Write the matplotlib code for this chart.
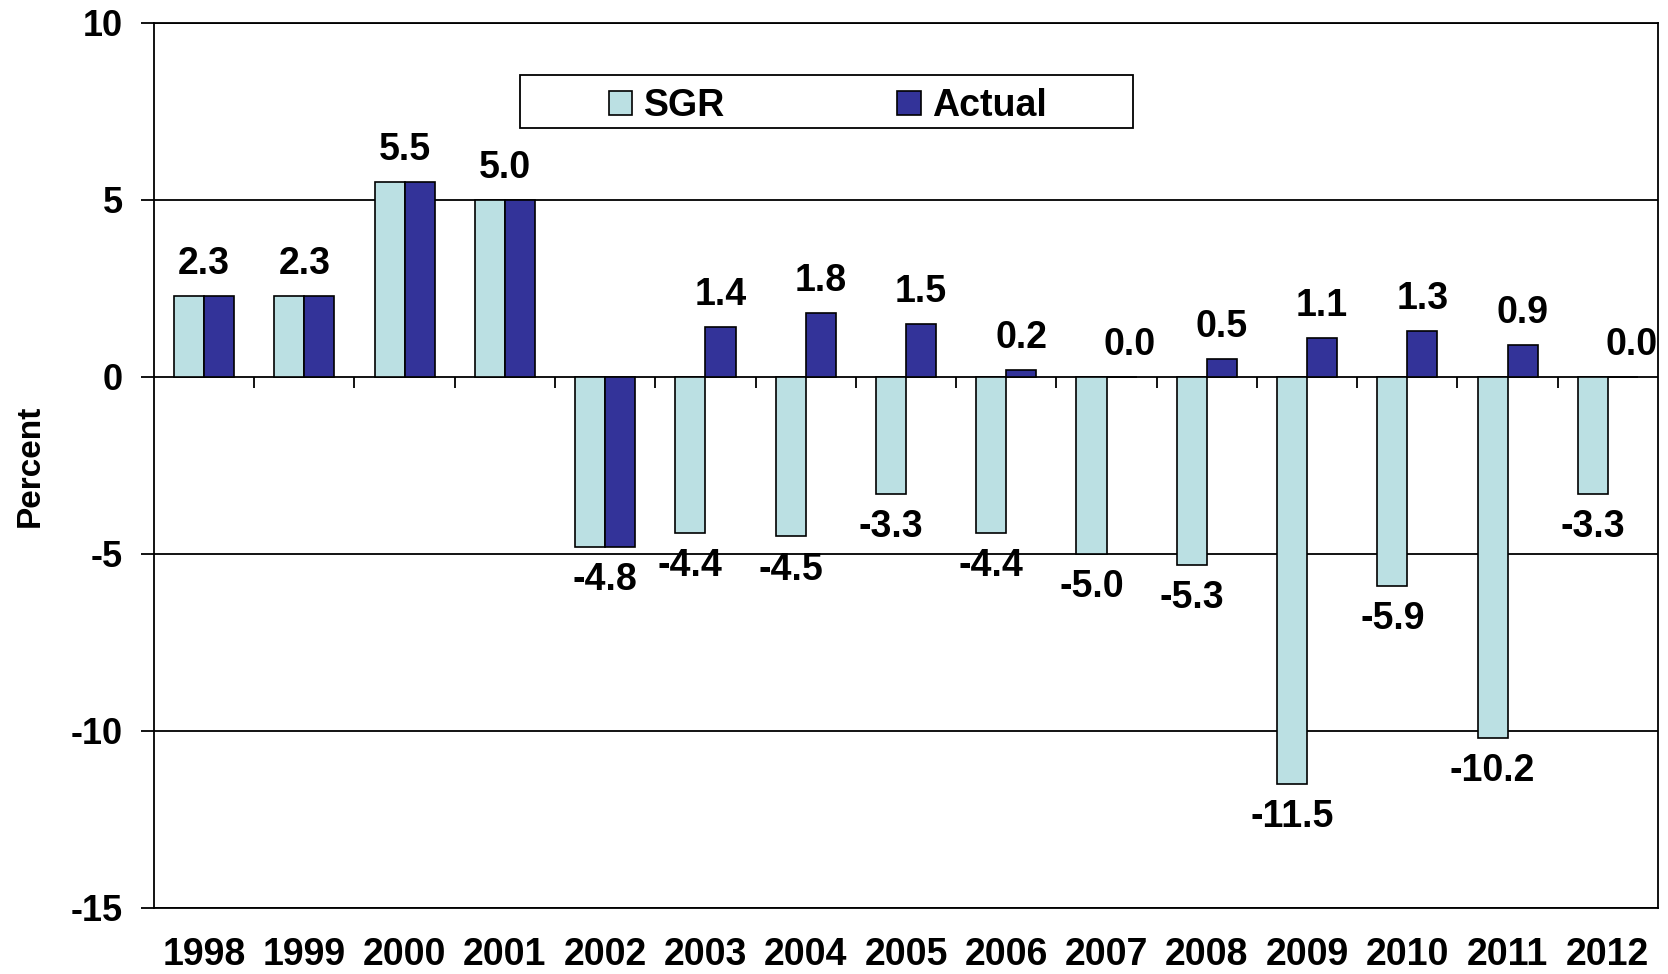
import numpy as np
import matplotlib.pyplot as plt
from matplotlib.patches import Rectangle

plt.rcParams['font.family'] = ['Liberation Sans', 'DejaVu Sans']
plt.rcParams['font.weight'] = 'bold'

# data
years = [str(y) for y in range(1998, 2013)]
sgr = [2.3, 2.3, 5.5, 5.0, -4.8, -4.4, -4.5, -3.3, -4.4, -5.0, -5.3, -11.5, -5.9, -10.2, -3.3]
actual = [2.3, 2.3, 5.5, 5.0, -4.8, 1.4, 1.8, 1.5, 0.2, 0.0, 0.5, 1.1, 1.3, 0.9, 0.0]
yticks = [-15, -10, -5, 0, 5, 10]

sgr_color = '#BBE0E3'
actual_color = '#333399'

fig = plt.figure(figsize=(16.68, 9.74), dpi=100)
ax = fig.add_axes([0.0923, 0.0678, 0.9017, 0.9086])

x = np.arange(len(years))
w = 0.3
ax.bar(x - w / 2, sgr, w, color=sgr_color, edgecolor='black', linewidth=1.2, label='SGR', zorder=3)
ax.bar(x + w / 2, actual, w, color=actual_color, edgecolor='black', linewidth=1.2, label='Actual', zorder=3)

# value labels
for i in range(len(years)):
    if sgr[i] == actual[i]:
        v = sgr[i]
        off = 23 if v >= 0 else -24
        ax.annotate(f'{v:.1f}', (x[i], v), xytext=(0, off), textcoords='offset points',
                    ha='center', va='center', fontsize=27, fontweight='bold')
    else:
        ax.annotate(f'{sgr[i]:.1f}', (x[i] - w / 2, sgr[i]), xytext=(0, -24), textcoords='offset points',
                    ha='center', va='center', fontsize=27, fontweight='bold')
        off_x = 6 if actual[i] == 0 else 0
        ax.annotate(f'{actual[i]:.1f}', (x[i] + w / 2, actual[i]), xytext=(off_x, 23), textcoords='offset points',
                    ha='center', va='center', fontsize=27, fontweight='bold')

ax.set_xlim(-0.5, len(years) - 0.5)
ax.set_ylim(-15, 10)
ax.set_yticks(yticks)
ax.set_yticklabels([str(t) for t in yticks], fontsize=26, fontweight='bold')
ax.tick_params(axis='y', direction='out', length=9.5, width=1.3, pad=13)

ax.set_xticks(x)
ax.set_xticklabels(years, fontsize=27, fontweight='bold')
ax.tick_params(axis='x', length=0, pad=21)

# horizontal gridlines and zero line
for t in yticks:
    ax.axhline(t, color='black', linewidth=1.3, zorder=1)
# category separators on the zero line
ax.vlines(x[:-1] + 0.5, -0.32, 0, color='black', linewidth=1.3, zorder=2)

for s in ax.spines.values():
    s.set_linewidth(1.3)

ax.set_ylabel('Percent', fontsize=24, fontweight='bold')
ax.yaxis.set_label_coords(-0.072, 0.5)

# legend with a wide frame
ax.add_patch(Rectangle((0.2436, 0.8808), 0.4076, 0.0599, transform=ax.transAxes,
                       facecolor='white', edgecolor='black', linewidth=1.3, zorder=4))
leg = ax.legend(loc='center', bbox_to_anchor=(0.448, 0.906), ncol=2, frameon=False,
                prop={'size': 27, 'weight': 'bold'}, handlelength=0.62, handleheight=0.62,
                handletextpad=0.3, columnspacing=4.6)
leg.set_zorder(5)

fig.savefig('out.png', dpi=100)
